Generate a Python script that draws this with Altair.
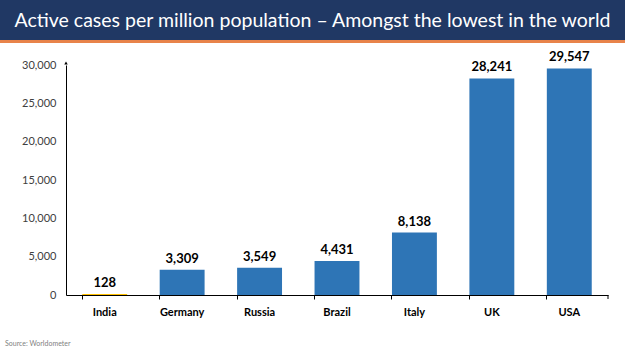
import altair as alt
import pandas as pd

countries = ["India", "Germany", "Russia", "Brazil", "Italy", "UK", "USA"]
values = [128, 3309, 3549, 4431, 8138, 28241, 29547]
highlight = [True, False, False, False, False, False, False]
y_ticks = [0, 5000, 10000, 15000, 20000, 25000, 30000]
title_text = "Active cases per million population \u2013 Amongst the lowest in the world"
source_text = "Source: Worldometer"

df = pd.DataFrame({"country": countries, "value": values, "india": highlight})

W, H = 542, 230
LEFT, TOP = 66, 65

x_enc = alt.X("country:N", sort=countries, title=None,
              scale=alt.Scale(paddingInner=0.42, paddingOuter=0.21),
              axis=alt.Axis(labelAngle=0, labelFont="Lato", labelFontWeight="bold",
                            labelFontSize=11, labelColor="#000000", labelPadding=7,
                            bandPosition=0, tickSize=4, tickColor="#000000",
                            domainColor="#000000", domainWidth=1))
y_enc = alt.Y("value:Q", title=None,
              scale=alt.Scale(domain=[0, 30000], nice=False),
              axis=alt.Axis(values=y_ticks,
                            labelExpr="format(datum.value, ',')",
                            grid=False, ticks=False, labelPadding=10,
                            labelOverlap=False,
                            labelFont="Lato", labelFontSize=11, labelColor="#404040",
                            domainColor="#000000", domainWidth=1))

base = alt.Chart(df)

bars = base.mark_bar().encode(
    x=x_enc, y=y_enc,
    color=alt.condition("datum.india", alt.value("#ffc000"), alt.value("#2e75b6")),
)

labels = base.mark_text(dy=-11, font="Lato", fontWeight="bold", fontSize=13,
                        color="#000000").encode(
    x=x_enc,
    y=y_enc,
    text=alt.Text("value:Q", format=","),
)

banner = base.mark_rect(color="#203864", clip=False).encode(
    x=alt.value(-LEFT), x2=alt.value(625 - LEFT),
    y=alt.value(-TOP), y2=alt.value(-TOP + 40),
)
stripe = base.mark_rect(color="#e8834a", clip=False).encode(
    x=alt.value(-LEFT), x2=alt.value(625 - LEFT),
    y=alt.value(-TOP + 40), y2=alt.value(-TOP + 43),
)
title = alt.Chart(pd.DataFrame({"t": [title_text]})).mark_text(
    font="Lato", fontSize=19.5, color="#ffffff", align="center", baseline="middle"
).encode(x=alt.value(625 / 2 - LEFT), y=alt.value(-TOP + 21), text="t:N")

source = alt.Chart(pd.DataFrame({"t": [source_text]})).mark_text(
    font="Lato", fontSize=7, color="#7f7f7f", align="left", baseline="middle"
).encode(x=alt.value(-LEFT + 5), y=alt.value(344 - TOP), text="t:N")

arrow = alt.Chart(pd.DataFrame({"a": [1]})).mark_point(
    shape="triangle-up", filled=True, size=12, color="#000000", opacity=1
).encode(x=alt.value(0), y=alt.value(-2))

end_tick = alt.Chart(pd.DataFrame({"a": [1]})).mark_rule(color="#000000").encode(
    x=alt.value(W), y=alt.value(H), y2=alt.value(H + 4)
)

chart = alt.layer(banner, stripe, title, bars, labels, source, arrow, end_tick).properties(
    width=W, height=H,
    autosize=alt.AutoSizeParams(type="none"),
    padding={"left": LEFT, "top": TOP, "right": 625 - LEFT - W, "bottom": 351 - TOP - H},
    background="#ffffff",
).configure_view(stroke=None)

chart.save("out.html", embed_options={"renderer": "svg", "actions": False})
